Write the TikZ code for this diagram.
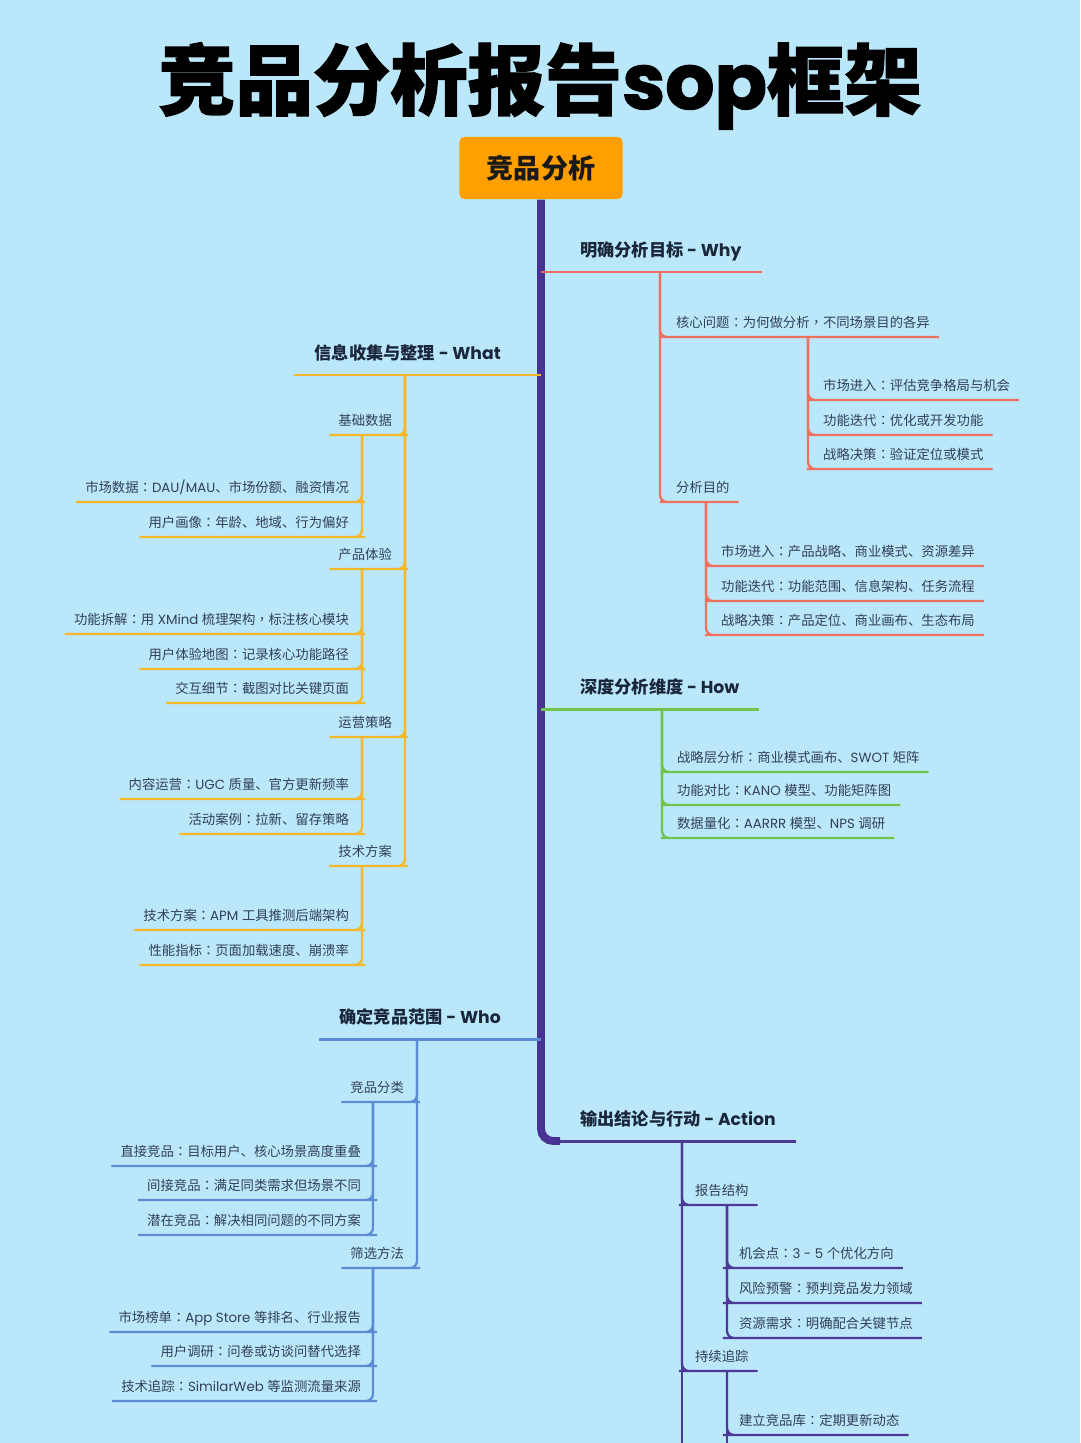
\documentclass[tikz,border=0pt]{standalone}
\usepackage{fontspec}
\setmainfont{Noto Sans CJK SC}
\newfontfamily\tcfont{Noto Sans CJK TC}
\newfontfamily\lt{Poppins}
\newfontfamily\titlefont{Noto Sans CJK SC}[BoldFeatures={FakeBold=1.6}]
\newfontfamily\titlelat{Poppins}[BoldFeatures={FakeBold=1.6}]
\usepackage{newunicodechar}
\newunicodechar{：}{{\tcfont\symbol{"FF1A}}}
\newunicodechar{，}{{\tcfont\symbol{"FF0C}}}
\newcommand{\la}[1]{{\lt #1}}
\usepackage{xcolor}
\usetikzlibrary{calc}

\definecolor{bgblue}{RGB}{187,231,250}
\definecolor{rootorange}{RGB}{255,160,0}
\definecolor{trunkpurple}{RGB}{72,50,148}
\definecolor{whyred}{RGB}{240,112,96}
\definecolor{whatyellow}{RGB}{246,183,40}
\definecolor{howgreen}{RGB}{112,196,78}
\definecolor{whoblue}{RGB}{92,140,214}
\definecolor{actpurple}{RGB}{76,58,150}
\definecolor{inkdark}{RGB}{26,38,58}
\definecolor{inkmid}{RGB}{50,64,84}

\begin{document}
\begin{tikzpicture}[
  x=0.02cm, y=-0.02cm,
  titletext/.style={font=\fontsize{44pt}{50pt}\selectfont\bfseries\titlefont, text=black, inner sep=0pt},
  rootbox/.style={rectangle, rounded corners=3pt, fill=rootorange, text=black!90,
                  minimum width=93pt, minimum height=35.5pt, font=\fontsize{15.4pt}{18pt}\selectfont\bfseries},
  topic/.style={font=\fontsize{9.8pt}{12pt}\selectfont\bfseries, text=inkdark,
                inner xsep=11.3pt, inner ysep=7.5pt, text height=0.88em, text depth=0.12em},
  leaf/.style={font=\fontsize{7.6pt}{9pt}\selectfont, text=inkmid,
               inner xsep=5pt, inner ysep=4.2pt, text height=0.88em, text depth=0.12em},
  trunk/.style={draw=trunkpurple, line width=4.5pt, rounded corners=7pt},
  whyln/.style={draw=whyred, line width=1.3pt, rounded corners=4pt},
  whatln/.style={draw=whatyellow, line width=1.3pt, rounded corners=4pt},
  howln/.style={draw=howgreen, line width=1.3pt, rounded corners=4pt},
  wholn/.style={draw=whoblue, line width=1.3pt, rounded corners=4pt},
  actln/.style={draw=actpurple, line width=1.3pt, rounded corners=4pt},
  main/.style={line width=1.7pt},
]
\fill[bgblue] (0,0) rectangle (1080,1443);
\useasboundingbox (0,0) rectangle (1080,1443);

\node[titletext] (title) at (540,86) {竞品分析报告{\titlelat\bfseries sop}框架};
\node[rootbox] (root) at (541,168) {竞品分析};

% main topics
\node[topic, anchor=south west] (why) at (560,272) {明确分析目标\la{ - Why}};
\node[topic, anchor=south west] (how) at (560,709) {深度分析维度\la{ - How}};
\node[topic, anchor=south west] (act) at (560,1141) {输出结论与行动\la{ - Action}};
\node[topic, anchor=south east] (what) at (521,375) {信息收集与整理\la{ - What}};
\node[topic, anchor=south east] (who) at (521,1039) {确定竞品范围\la{ - Who}};

% Why
\node[leaf, anchor=south west] (core) at (667,337) {核心问题：为何做分析，不同场景目的各异};
\node[leaf, anchor=south west] (core1) at (814,400) {市场进入：评估竞争格局与机会};
\node[leaf, anchor=south west] (core2) at (814,435) {功能迭代：优化或开发功能};
\node[leaf, anchor=south west] (core3) at (814,469) {战略决策：验证定位或模式};
\node[leaf, anchor=south west] (aim) at (667,502) {分析目的};
\node[leaf, anchor=south west] (aim1) at (712,566) {市场进入：产品战略、商业模式、资源差异};
\node[leaf, anchor=south west] (aim2) at (712,601) {功能迭代：功能范围、信息架构、任务流程};
\node[leaf, anchor=south west] (aim3) at (712,635) {战略决策：产品定位、商业画布、生态布局};

% How
\node[leaf, anchor=south west] (how1) at (668,772) {战略层分析：商业模式画布、\la{SWOT }矩阵};
\node[leaf, anchor=south west] (how2) at (668,805) {功能对比：\la{KANO }模型、功能矩阵图};
\node[leaf, anchor=south west] (how3) at (668,838) {数据量化：\la{AARRR }模型、\la{NPS }调研};

% What
\node[leaf, anchor=south east] (base) at (401,435) {基础数据};
\node[leaf, anchor=south east] (base1) at (358,502) {市场数据：\la{DAU/MAU}、市场份额、融资情况};
\node[leaf, anchor=south east] (base2) at (358,537) {用户画像：年龄、地域、行为偏好};
\node[leaf, anchor=south east] (exp) at (401,569) {产品体验};
\node[leaf, anchor=south east] (exp1) at (358,634) {功能拆解：用\la{ XMind }梳理架构，标注核心模块};
\node[leaf, anchor=south east] (exp2) at (358,669) {用户体验地图：记录核心功能路径};
\node[leaf, anchor=south east] (exp3) at (358,703) {交互细节：截图对比关键页面};
\node[leaf, anchor=south east] (ops) at (401,737) {运营策略};
\node[leaf, anchor=south east] (ops1) at (358,799) {内容运营：\la{UGC }质量、官方更新频率};
\node[leaf, anchor=south east] (ops2) at (358,834) {活动案例：拉新、留存策略};
\node[leaf, anchor=south east] (tech) at (401,866) {技术方案};
\node[leaf, anchor=south east] (tech1) at (358,930) {技术方案：\la{APM }工具推测后端架构};
\node[leaf, anchor=south east] (tech2) at (358,965) {性能指标：页面加载速度、崩溃率};

% Who
\node[leaf, anchor=south east] (kind) at (413,1102) {竞品分类};
\node[leaf, anchor=south east] (kind1) at (370,1166) {直接竞品：目标用户、核心场景高度重叠};
\node[leaf, anchor=south east] (kind2) at (370,1200) {间接竞品：满足同类需求但场景不同};
\node[leaf, anchor=south east] (kind3) at (370,1235) {潜在竞品：解决相同问题的不同方案};
\node[leaf, anchor=south east] (pick) at (413,1268) {筛选方法};
\node[leaf, anchor=south east] (pick1) at (370,1332) {市场榜单：\la{App Store }等排名、行业报告};
\node[leaf, anchor=south east] (pick2) at (370,1366) {用户调研：问卷或访谈问替代选择};
\node[leaf, anchor=south east] (pick3) at (370,1401) {技术追踪：\la{SimilarWeb }等监测流量来源};

% Action
\node[leaf, anchor=south west] (rep) at (686,1205) {报告结构};
\node[leaf, anchor=south west] (rep1) at (730,1268) {机会点：\la{3 - 5 }个优化方向};
\node[leaf, anchor=south west] (rep2) at (730,1303) {风险预警：预判竞品发力领域};
\node[leaf, anchor=south west] (rep3) at (730,1338) {资源需求：明确配合关键节点};
\node[leaf, anchor=south west] (trk) at (686,1371) {持续追踪};
\node[leaf, anchor=south west] (trk1) at (730,1435) {建立竞品库：定期更新动态};
\coordinate (act-end) at (682,1443);
\coordinate (trk-end) at (727,1443);

% trunk
\draw[trunk] (root.south) |- (act.south west);

% main branches
\draw[whyln, main] (root.south |- why.south) -- (why.south east);
\draw[howln, main] (root.south |- how.south) -- (how.south east);
\draw[actln, main] (act.south west) -- (act.south east);
\draw[whatln, main] (root.south |- what.south) -- (what.south west);
\draw[wholn, main] (root.south |- who.south) -- (who.south west);

% Why
\draw[whyln] ($(why.south west)+(100,0)$) |- (core.south west) -- (core.south east);
\draw[whyln] ($(why.south west)+(100,0)$) |- (aim.south west) -- (aim.south east);
\draw[whyln] ($(core.south west)+(141,0)$) |- (core1.south west) -- (core1.south east);
\draw[whyln] ($(core.south west)+(141,0)$) |- (core2.south west) -- (core2.south east);
\draw[whyln] ($(core.south west)+(141,0)$) |- (core3.south west) -- (core3.south east);
\draw[whyln] ($(aim.south west)+(39,0)$) |- (aim1.south west) -- (aim1.south east);
\draw[whyln] ($(aim.south west)+(39,0)$) |- (aim2.south west) -- (aim2.south east);
\draw[whyln] ($(aim.south west)+(39,0)$) |- (aim3.south west) -- (aim3.south east);

% How
\draw[howln] ($(how.south west)+(102,0)$) |- (how1.south west) -- (how1.south east);
\draw[howln] ($(how.south west)+(102,0)$) |- (how2.south west) -- (how2.south east);
\draw[howln] ($(how.south west)+(102,0)$) |- (how3.south west) -- (how3.south east);

% What
\draw[whatln] ($(what.south east)+(-116,0)$) |- (base.south east) -- (base.south west);
\draw[whatln] ($(what.south east)+(-116,0)$) |- (exp.south east) -- (exp.south west);
\draw[whatln] ($(what.south east)+(-116,0)$) |- (ops.south east) -- (ops.south west);
\draw[whatln] ($(what.south east)+(-116,0)$) |- (tech.south east) -- (tech.south west);
\draw[whatln] ($(base.south east)+(-39,0)$) |- (base1.south east) -- (base1.south west);
\draw[whatln] ($(base.south east)+(-39,0)$) |- (base2.south east) -- (base2.south west);
\draw[whatln] ($(exp.south east)+(-39,0)$) |- (exp1.south east) -- (exp1.south west);
\draw[whatln] ($(exp.south east)+(-39,0)$) |- (exp2.south east) -- (exp2.south west);
\draw[whatln] ($(exp.south east)+(-39,0)$) |- (exp3.south east) -- (exp3.south west);
\draw[whatln] ($(ops.south east)+(-39,0)$) |- (ops1.south east) -- (ops1.south west);
\draw[whatln] ($(ops.south east)+(-39,0)$) |- (ops2.south east) -- (ops2.south west);
\draw[whatln] ($(tech.south east)+(-39,0)$) |- (tech1.south east) -- (tech1.south west);
\draw[whatln] ($(tech.south east)+(-39,0)$) |- (tech2.south east) -- (tech2.south west);

% Who
\draw[wholn] ($(who.south east)+(-104,0)$) |- (kind.south east) -- (kind.south west);
\draw[wholn] ($(who.south east)+(-104,0)$) |- (pick.south east) -- (pick.south west);
\draw[wholn] ($(kind.south east)+(-40,0)$) |- (kind1.south east) -- (kind1.south west);
\draw[wholn] ($(kind.south east)+(-40,0)$) |- (kind2.south east) -- (kind2.south west);
\draw[wholn] ($(kind.south east)+(-40,0)$) |- (kind3.south east) -- (kind3.south west);
\draw[wholn] ($(pick.south east)+(-40,0)$) |- (pick1.south east) -- (pick1.south west);
\draw[wholn] ($(pick.south east)+(-40,0)$) |- (pick2.south east) -- (pick2.south west);
\draw[wholn] ($(pick.south east)+(-40,0)$) |- (pick3.south east) -- (pick3.south west);

% Action
\draw[actln] ($(act.south west)+(122,0)$) |- (rep.south west) -- (rep.south east);
\draw[actln] ($(act.south west)+(122,0)$) |- (trk.south west) -- (trk.south east);
\draw[actln] ($(act.south west)+(122,0)$) -- (act-end);
\draw[actln] ($(rep.south west)+(41,0)$) |- (rep1.south west) -- (rep1.south east);
\draw[actln] ($(rep.south west)+(41,0)$) |- (rep2.south west) -- (rep2.south east);
\draw[actln] ($(rep.south west)+(41,0)$) |- (rep3.south west) -- (rep3.south east);
\draw[actln] ($(trk.south west)+(41,0)$) |- (trk1.south west) -- (trk1.south east);
\draw[actln] ($(trk.south west)+(41,0)$) -- (trk-end);
\end{tikzpicture}
\end{document}
